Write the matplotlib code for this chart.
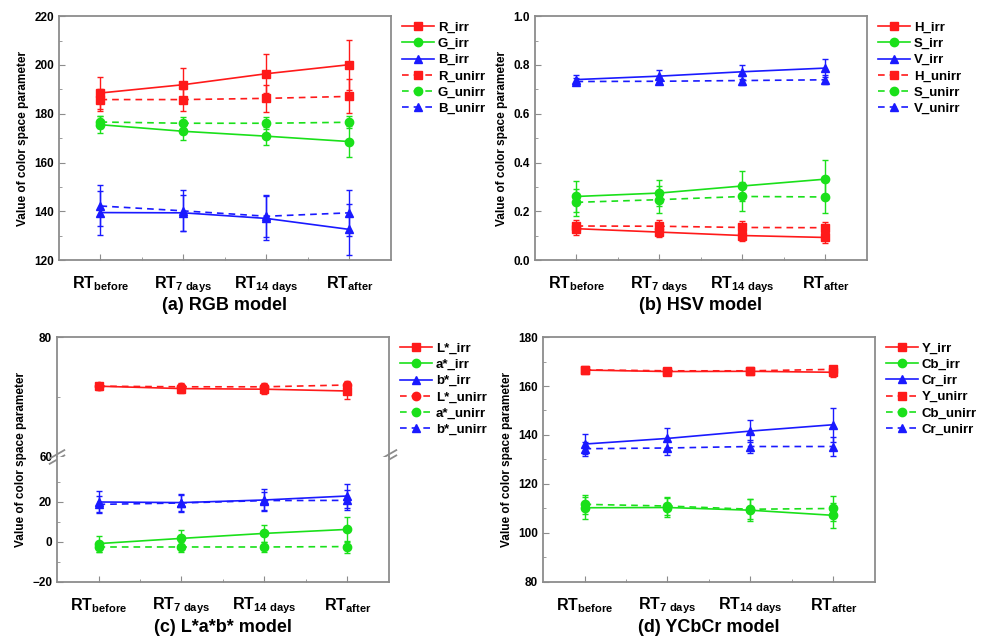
import matplotlib
matplotlib.use("Agg")
import matplotlib.pyplot as plt
from matplotlib.ticker import MultipleLocator, FixedLocator, FormatStrFormatter
import numpy as np

plt.rcParams['font.family'] = ['Liberation Sans', 'DejaVu Sans']
plt.rcParams['font.weight'] = 'bold'
plt.rcParams['axes.labelweight'] = 'bold'
plt.rcParams['mathtext.fontset'] = 'custom'
plt.rcParams['mathtext.rm'] = 'Liberation Sans:bold'
plt.rcParams['mathtext.bf'] = 'Liberation Sans:bold'
plt.rcParams['mathtext.it'] = 'Liberation Sans:bold:italic'

# ---- data ----
xticklabels = [r'RT$_{\mathrm{before}}$', r'RT$_{\mathrm{7\ days}}$',
               r'RT$_{\mathrm{14\ days}}$', r'RT$_{\mathrm{after}}$']

# (a) RGB
R_irr = [188.5, 191.9, 196.4, 200.1]
R_irr_err = [6.5, 6.7, 7.9, 10.2]
G_irr = [175.5, 172.8, 170.8, 168.6]
G_irr_err = [3.5, 3.5, 3.6, 6.3]
B_irr = [139.5, 139.4, 137.1, 132.6]
B_irr_err = [9.0, 7.4, 9.0, 10.6]
R_unirr = [185.8, 185.8, 186.3, 187.1]
R_unirr_err = [4.5, 4.5, 5.5, 7.0]
G_unirr = [176.6, 176.1, 176.1, 176.5]
G_unirr_err = [2.5, 2.5, 2.5, 2.5]
B_unirr = [142.2, 140.2, 138.0, 139.4]
B_unirr_err = [8.4, 8.4, 8.6, 9.5]

# (b) HSV
H_irr = [0.129, 0.115, 0.101, 0.093]
H_irr_err = [0.025, 0.022, 0.022, 0.022]
S_irr = [0.261, 0.275, 0.304, 0.332]
S_irr_err = [0.062, 0.055, 0.063, 0.078]
V_irr = [0.740, 0.754, 0.772, 0.787]
V_irr_err = [0.020, 0.024, 0.028, 0.036]
H_unirr = [0.140, 0.139, 0.134, 0.133]
H_unirr_err = [0.025, 0.025, 0.025, 0.025]
S_unirr = [0.237, 0.248, 0.261, 0.259]
S_unirr_err = [0.055, 0.055, 0.060, 0.066]
V_unirr = [0.732, 0.733, 0.736, 0.739]
V_unirr_err = [0.013, 0.013, 0.018, 0.018]

# (c) L*a*b*
L_irr = [71.8, 71.4, 71.3, 71.0]
L_irr_err = [0.6, 0.8, 0.8, 1.3]
a_irr = [-0.8, 1.8, 4.3, 6.3]
a_irr_err = [4.0, 4.0, 4.2, 6.4]
b_irr = [20.0, 19.7, 21.0, 23.0]
b_irr_err = [5.5, 4.5, 5.3, 6.0]
L_unirr = [71.8, 71.7, 71.7, 72.0]
L_unirr_err = [0.5, 0.6, 0.7, 0.7]
a_unirr = [-2.5, -2.5, -2.5, -2.3]
a_unirr_err = [2.5, 2.5, 2.5, 3.0]
b_unirr = [18.8, 19.5, 20.7, 20.8]
b_unirr_err = [4.0, 4.0, 4.5, 5.0]

# (d) YCbCr
Y_irr = [166.5, 165.9, 166.0, 165.6]
Y_irr_err = [0.8, 1.0, 1.0, 1.8]
Cb_irr = [110.3, 110.4, 109.3, 107.2]
Cb_irr_err = [4.5, 3.8, 4.5, 5.0]
Cr_irr = [136.3, 138.6, 141.6, 144.2]
Cr_irr_err = [4.0, 4.1, 4.5, 7.0]
Y_unirr = [166.6, 166.2, 166.2, 166.8]
Y_unirr_err = [0.8, 0.8, 0.8, 0.8]
Cb_unirr = [111.7, 111.0, 109.7, 110.0]
Cb_unirr_err = [4.0, 3.5, 4.0, 5.0]
Cr_unirr = [134.4, 134.7, 135.3, 135.3]
Cr_unirr_err = [2.8, 2.7, 2.8, 3.7]

RED, GREEN, BLUE = '#ff1a1a', '#1ae01a', '#1a1aff'
SPINE = '#8c8c8c'
x = np.arange(len(xticklabels))
YLAB = 'Value of color space parameter'


def draw(ax, y, err, color, marker, ls, label):
    return ax.errorbar(x, y, yerr=err, color=color, marker=marker, ls=ls,
                       lw=1.2, ms=6, capsize=2.5, elinewidth=1, capthick=1,
                       dashes=(4, 3) if ls == '--' else (None, None),
                       label=label)


def style(ax, xaxis=True):
    for s in ax.spines.values():
        s.set_color(SPINE)
        s.set_linewidth(1.3)
    ax.set_xlim(-0.5, 3.5)
    ax.tick_params(which='both', direction='in', top=False, right=False,
                   color=SPINE, labelsize=8.5)
    ax.tick_params(which='major', length=4)
    ax.tick_params(which='minor', length=2.5)
    ax.xaxis.set_major_locator(FixedLocator(x))
    ax.xaxis.set_minor_locator(FixedLocator(x[:-1] + 0.5))
    if xaxis:
        ax.set_xticklabels(xticklabels, fontsize=11.5)
        ax.tick_params(axis='x', pad=10)
    else:
        ax.tick_params(axis='x', which='both', bottom=False, labelbottom=False)


def legend(ax, hs):
    ax.legend([h[0] for h in hs], [h.get_label() for h in hs],
              loc='upper left', bbox_to_anchor=(1.01, 1.01), frameon=False,
              fontsize=9.5, handlelength=2.4, labelspacing=0.3,
              handletextpad=0.3, borderaxespad=0.2)


fig = plt.figure(figsize=(9.88, 6.44), dpi=100)
W = 0.336

# (a) RGB model
ax = fig.add_axes([0.0597, 0.596, W, 0.379])
hs = [draw(ax, R_irr, R_irr_err, RED, 's', '-', 'R_irr'),
      draw(ax, G_irr, G_irr_err, GREEN, 'o', '-', 'G_irr'),
      draw(ax, B_irr, B_irr_err, BLUE, '^', '-', 'B_irr'),
      draw(ax, R_unirr, R_unirr_err, RED, 's', '--', 'R_unirr'),
      draw(ax, G_unirr, G_unirr_err, GREEN, 'o', '--', 'G_unirr'),
      draw(ax, B_unirr, B_unirr_err, BLUE, '^', '--', 'B_unirr')]
style(ax)
ax.set_ylim(120, 220)
ax.yaxis.set_major_locator(MultipleLocator(20))
ax.yaxis.set_minor_locator(MultipleLocator(10))
ax.set_ylabel(YLAB, fontsize=8.5, fontweight='bold')
ax.set_xlabel('(a) RGB model', fontsize=13, fontweight='bold', labelpad=2)
legend(ax, hs)

# (b) HSV model
ax = fig.add_axes([0.5415, 0.596, W, 0.379])
hs = [draw(ax, H_irr, H_irr_err, RED, 's', '-', 'H_irr'),
      draw(ax, S_irr, S_irr_err, GREEN, 'o', '-', 'S_irr'),
      draw(ax, V_irr, V_irr_err, BLUE, '^', '-', 'V_irr'),
      draw(ax, H_unirr, H_unirr_err, RED, 's', '--', 'H_unirr'),
      draw(ax, S_unirr, S_unirr_err, GREEN, 'o', '--', 'S_unirr'),
      draw(ax, V_unirr, V_unirr_err, BLUE, '^', '--', 'V_unirr')]
style(ax)
ax.set_ylim(0, 1.0)
ax.yaxis.set_major_locator(MultipleLocator(0.2))
ax.yaxis.set_minor_locator(MultipleLocator(0.1))
ax.yaxis.set_major_formatter(FormatStrFormatter('%.1f'))
ax.set_ylabel(YLAB, fontsize=8.5, fontweight='bold')
ax.set_xlabel('(b) HSV model', fontsize=13, fontweight='bold', labelpad=2)
legend(ax, hs)

# (c) L*a*b* model - broken axis
top = fig.add_axes([0.0577, 0.2904, W, 0.1863])
bot = fig.add_axes([0.0577, 0.0963, W, 0.1941])
hs = [draw(top, L_irr, L_irr_err, RED, 's', '-', 'L*_irr'),
      draw(bot, a_irr, a_irr_err, GREEN, 'o', '-', 'a*_irr'),
      draw(bot, b_irr, b_irr_err, BLUE, '^', '-', 'b*_irr'),
      draw(top, L_unirr, L_unirr_err, RED, 'o', '--', 'L*_unirr'),
      draw(bot, a_unirr, a_unirr_err, GREEN, 'o', '--', 'a*_unirr'),
      draw(bot, b_unirr, b_unirr_err, BLUE, '^', '--', 'b*_unirr')]
style(top, xaxis=False)
style(bot)
top.spines['bottom'].set_visible(False)
bot.spines['top'].set_visible(False)
top.set_ylim(60, 80)
top.yaxis.set_major_locator(FixedLocator([60, 80]))
top.yaxis.set_minor_locator(FixedLocator([70]))
bot.set_ylim(-20, 42.5)
bot.yaxis.set_major_locator(FixedLocator([-20, 0, 20]))
bot.yaxis.set_minor_locator(FixedLocator([-10, 10, 30]))
bot.set_xlabel('(c) L*a*b* model', fontsize=13, fontweight='bold', labelpad=2)
# break marks "//" on both spines
for xs in (0, 1):
    for dy in (-0.022, 0.022):
        top.plot([xs - 0.022, xs + 0.022], [dy - 0.035, dy + 0.035],
                 transform=top.transAxes, color=SPINE, lw=1.3,
                 clip_on=False, zorder=5)
fig.text(0.021, 0.2865, YLAB, rotation=90, fontsize=8.5,
         fontweight='bold', ha='center', va='center')
legend(top, hs)
top.get_legend().set_bbox_to_anchor((1.01, 1.02))

# (d) YCbCr model
ax = fig.add_axes([0.5496, 0.0963, W, 0.3804])
hs = [draw(ax, Y_irr, Y_irr_err, RED, 's', '-', 'Y_irr'),
      draw(ax, Cb_irr, Cb_irr_err, GREEN, 'o', '-', 'Cb_irr'),
      draw(ax, Cr_irr, Cr_irr_err, BLUE, '^', '-', 'Cr_irr'),
      draw(ax, Y_unirr, Y_unirr_err, RED, 's', '--', 'Y_unirr'),
      draw(ax, Cb_unirr, Cb_unirr_err, GREEN, 'o', '--', 'Cb_unirr'),
      draw(ax, Cr_unirr, Cr_unirr_err, BLUE, '^', '--', 'Cr_unirr')]
style(ax)
ax.set_ylim(80, 180)
ax.yaxis.set_major_locator(MultipleLocator(20))
ax.yaxis.set_minor_locator(MultipleLocator(10))
ax.set_ylabel(YLAB, fontsize=8.5, fontweight='bold')
ax.set_xlabel('(d) YCbCr model', fontsize=13, fontweight='bold', labelpad=2)
legend(ax, hs)

fig.savefig('out.png', dpi=100)
